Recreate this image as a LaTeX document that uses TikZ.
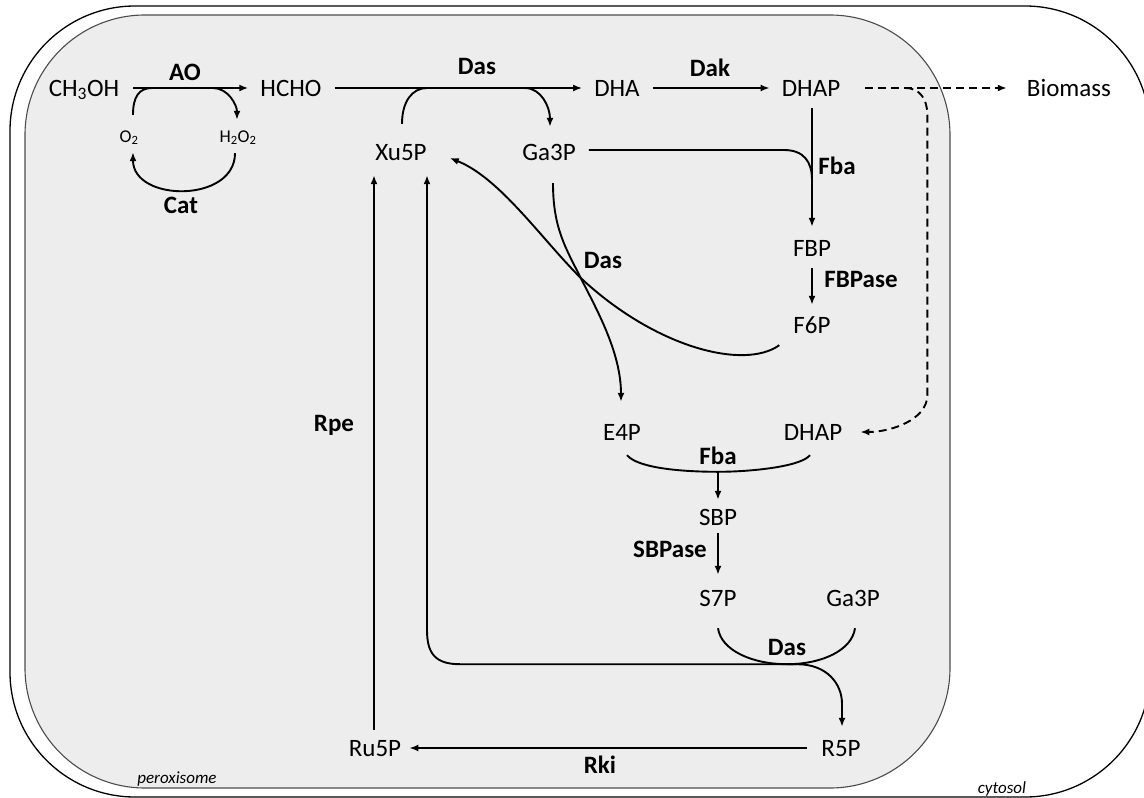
\documentclass[tikz,border=0pt]{standalone}
\usepackage{fontspec}
\setmainfont{Carlito}
\usetikzlibrary{arrows.meta,calc}
\begin{document}
\begin{tikzpicture}[x=1pt,y=-1pt,
  met/.style={font=\fontsize{25}{30}\selectfont, inner sep=0pt, text height=16pt, text depth=0pt},
  enz/.style={met, font=\bfseries\fontsize{25}{30}\selectfont},
  small/.style={font=\fontsize{18}{22}\selectfont, inner sep=0pt, text height=12pt, text depth=0pt},
  loc/.style={font=\itshape\fontsize{17}{20}\selectfont, inner sep=0pt},
  ln/.style={line width=1.9pt},
  arr/.style={ln, -{Latex[length=9pt,width=7pt]}},
  darr/.style={arr, dash pattern=on 8pt off 5pt},
]
\useasboundingbox (0,0) rectangle (1144,798);
\clip (0,0) rectangle (1144,798);
% compartments
\draw[line width=1.3pt, rounded corners=125pt] (10,6) rectangle (1150,797);
\draw[draw=black!70, line width=1.1pt, fill=black!7, rounded corners=120pt] (25,15) rectangle (950,788);

% nodes
\node[met] (ch3oh) at (84,88) {CH\textsubscript{3}OH};
\node[met] (hcho) at (291,88) {HCHO};
\node[met] (dha) at (617,88) {DHA};
\node[met] (dhap) at (811,88) {DHAP};
\node[met] (bio) at (1069,88) {Biomass};
\node[small] (o2) at (129,136) {O\textsubscript{2}};
\node[small] (h2o2) at (238,136) {H\textsubscript{2}O\textsubscript{2}};
\node[enz] (ao) at (185,72) {AO};
\node[enz] (cat) at (181,205) {Cat};
\node[enz] (das1) at (477,66) {Das};
\node[enz] (dak) at (710,68) {Dak};
\node[met] (xu5p) at (401,152) {Xu5P};
\node[met] (ga3p) at (549,152) {Ga3P};
\node[enz] (fba1) at (837,166) {Fba};
\node[met] (fbp) at (812,248) {FBP};
\node[enz] (fbpase) at (861,279) {FBPase};
\node[met] (f6p) at (812,325) {F6P};
\node[enz] (das2) at (603,260) {Das};
\node[met] (e4p) at (622,432) {E4P};
\node[met] (dhap2) at (813,432) {DHAP};
\node[enz] (fba2) at (718,456) {Fba};
\node[met] (sbp) at (718,517) {SBP};
\node[enz] (sbpase) at (670,549) {SBPase};
\node[met] (s7p) at (718,598) {S7P};
\node[met] (ga3p2) at (853,598) {Ga3P};
\node[enz] (das3) at (787,647) {Das};
\node[met] (r5p) at (841,748) {R5P};
\node[met] (ru5p) at (375,748) {Ru5P};
\node[enz] (rki) at (600,765) {Rki};
\node[enz] (rpe) at (334,423) {Rpe};
\node[loc] (perox) at (177,779) {peroxisome};
\node[loc] (cyto) at (1002,789) {cytosol};

% AO and Cat
\coordinate (aoL) at ($(ch3oh.center)+(68,0)$);
\coordinate (aoR) at ($(ch3oh.center)+(129,0)$);
\draw[arr] ($(ch3oh.east)+(14,0)$) -- ($(hcho.west)+(-12,0)$);
\draw[ln] ($(o2.north)+(4,-15)$) .. controls +(0,-18) and +(-13,0) .. (aoL);
\draw[arr] (aoR) .. controls +(15,0) and +(0,-15) .. ($(h2o2.north)+(-1,-10)$);
\draw[arr] ($(h2o2.south)+(-3,11)$) .. controls +(0,50) and +(0,50) .. ($(o2.south)+(4,10)$);

% Das (top)
\coordinate (dasL) at ($(xu5p.center)+(26,-64)$);
\coordinate (dasR) at ($(ga3p.center)+(-24,-64)$);
\draw[arr] ($(hcho.east)+(13,0)$) -- ($(dha.west)+(-12,0)$);
\draw[ln] ($(xu5p.north)+(1,-20)$) .. controls +(0,-22) and +(-15,0) .. (dasL);
\draw[arr] (dasR) .. controls +(16,0) and +(0,-20) .. ($(ga3p.north)+(1,-17)$);

% Dak
\draw[arr] ($(dha.east)+(13,0)$) -- ($(dhap.west)+(-12,0)$);

% Fba (top)
\coordinate (fbaJ) at ($(fbp.north)+(0,-60)$);
\draw[arr] ($(dhap.south)+(1,12)$) -- ($(fbp.north)+(0,-13)$);
\draw[ln] ($(ga3p.east)+(13,-2)$) -- ($(ga3p.east)+(208,-2)$) .. controls +(20,0) and +(0,-18) .. (fbaJ);

% FBPase
\draw[arr] ($(fbp.south)+(0,12)$) -- ($(f6p.north)+(0,-12)$);

% dashed to biomass and to DHAP
\coordinate (dsplit) at ($(dhap.east)+(65,0)$);
\draw[darr] ($(dhap.east)+(25,0)$) -- ($(bio.west)+(-20,0)$);
\draw[darr] (dsplit) .. controls +(15,0) and +(0,-15) .. ($(dsplit)+(22,27)$) -- ($(dsplit)+(22,307)$) .. controls +(0,25) and +(30,0) .. ($(dhap2.east)+(18,0)$);

% Das crossing (F6P + Ga3P -> Xu5P + E4P)
\coordinate (dasX) at ($(das2.west)+(-3,18)$);
\draw[arr] ($(f6p.south west)+(-14,12)$) .. controls +(-35,25) and +(75,70) .. (dasX) .. controls +(-40,-40) and +(50,20) .. ($(xu5p.east)+(23,6)$);
\draw[arr] ($(ga3p.south)+(4,23)$) .. controls +(0,45) and +(-15,-30) .. (dasX) .. controls +(15,30) and +(0,-50) .. ($(e4p.north)+(-1,-22)$);

% Fba (bottom)
\coordinate (fbaJ2) at ($(sbp.north)+(0,-37)$);
\draw[ln] ($(e4p.south)+(5,15)$) .. controls +(12,14) and +(-30,0) .. (fbaJ2) .. controls +(30,0) and +(-10,12) .. ($(dhap2.south)+(-3,15)$);
\draw[arr] (fbaJ2) -- ($(sbp.north)+(0,-9)$);

% SBPase
\draw[arr] ($(sbp.south)+(0,8)$) -- ($(s7p.north)+(0,-15)$);

% Das (bottom)
\coordinate (dasJ) at ($(das3.south)+(0,9)$);
\draw[ln] ($(s7p.south)+(0,22)$) .. controls +(3,22) and +(-35,0) .. (dasJ) .. controls +(35,0) and +(-3,22) .. ($(ga3p2.south)+(2,22)$);
\draw[arr] ($(dasJ)+(10,0)$) -- ($(dasJ)+(-327,0)$) .. controls +(-24,0) and +(0,24) .. ($(dasJ)+(-360,-34)$) -- ($(xu5p.south)+(26,15)$);
\draw[arr] (dasJ) -- ($(dasJ)+(10,0)$) .. controls +(30,0) and +(0,-20) .. ($(r5p.north)+(1,-36)$) -- ($(r5p.north)+(1,-13)$);

% Rki and Rpe
\draw[arr] ($(r5p.west)+(-14,0)$) -- ($(ru5p.east)+(8,0)$);
\draw[arr] ($(ru5p.north)+(-1,-10)$) -- ($(xu5p.south)+(-27,15)$);
\end{tikzpicture}
\end{document}
